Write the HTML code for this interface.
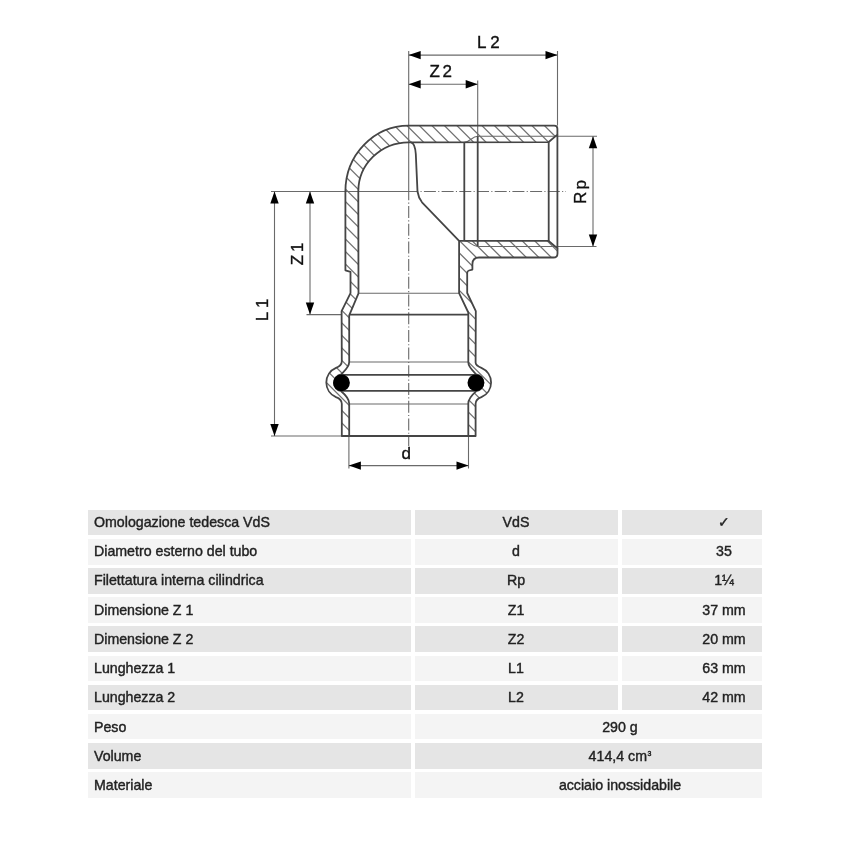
<!DOCTYPE html>
<html><head><meta charset="utf-8"><style>
svg,.t{will-change:transform}
html,body{margin:0;padding:0;background:#fff;width:850px;height:850px;overflow:hidden;position:relative}
.c{position:absolute}
.t{position:absolute;font-family:"Liberation Sans",sans-serif;font-size:14.2px;line-height:16px;color:#222;white-space:nowrap;-webkit-text-stroke:0.4px #222}
.ctr{text-align:center}
</style></head><body>
<svg width="850" height="500" viewBox="0 0 850 500" style="position:absolute;left:0;top:0">
<defs>
<clipPath id="cl"><path d="M 554.2 125.6 L 408.7 125.6 A 63.3 65.9 0 0 0 345.4 191.5 L 345.4 270.3 L 350.5 271.8 L 350.5 293.1 L 341.6 311.1 L 341.8 361.2 C 341.8 364.5 338.8 366.75 336 367.8 A 16 16 0 0 0 336 397.2 C 338.8 398.25 341.8 400.5 341.8 403.8 L 341.8 436 L 349.2 436 L 349.2 403.5 C 349.2 398 344.5 394 341.2 391.2 A 8.5 8.5 0 0 1 341.2 374.4 C 344.5 371 349.2 367 349.2 362 L 349.2 315.3 L 358.5 293.4 L 358.3 191.5 A 50.4 49.2 0 0 1 408.7 142.3 L 548.4 142.2 L 557.4 134.6 L 557.4 128.8 Q 557.4 125.6 554.2 125.6 Z"/><path d="M 459.1 240.8 L 548.4 240.8 L 557.5 248.4 L 557.5 253.4 Q 557.5 257.5 553.4 257.5 L 479 257.5 Q 472.4 257.5 472.4 264.2 L 472.4 269.6 L 469 270.5 Q 467.2 271 467.2 273 L 467.2 293 L 475.8 311.1 L 475.6 362.5 C 475.6 364.5 478.6 366.75 481.4 367.8 A 16 16 0 0 1 481.4 397.2 C 478.6 398.25 475.6 400.5 475.6 403.8 L 475.6 436 L 468.3 436 L 468.3 403.5 C 468.3 398 473 394 476.2 391.2 A 8.5 8.5 0 0 0 476.2 374.4 C 473 371 468.3 367 468.3 362.3 L 468.3 312.5 L 459.1 293.1 Z"/></clipPath>
</defs>
<g clip-path="url(#cl)" stroke="#707070" stroke-width="1.25" fill="none">
<line x1="18.80" y1="100" x2="378.80" y2="460"/>
<line x1="31.30" y1="100" x2="391.30" y2="460"/>
<line x1="43.80" y1="100" x2="403.80" y2="460"/>
<line x1="56.30" y1="100" x2="416.30" y2="460"/>
<line x1="68.80" y1="100" x2="428.80" y2="460"/>
<line x1="81.30" y1="100" x2="441.30" y2="460"/>
<line x1="93.80" y1="100" x2="453.80" y2="460"/>
<line x1="106.30" y1="100" x2="466.30" y2="460"/>
<line x1="118.80" y1="100" x2="478.80" y2="460"/>
<line x1="131.30" y1="100" x2="491.30" y2="460"/>
<line x1="143.80" y1="100" x2="503.80" y2="460"/>
<line x1="156.30" y1="100" x2="516.30" y2="460"/>
<line x1="168.80" y1="100" x2="528.80" y2="460"/>
<line x1="181.30" y1="100" x2="541.30" y2="460"/>
<line x1="193.80" y1="100" x2="553.80" y2="460"/>
<line x1="206.30" y1="100" x2="566.30" y2="460"/>
<line x1="218.80" y1="100" x2="578.80" y2="460"/>
<line x1="231.30" y1="100" x2="591.30" y2="460"/>
<line x1="243.80" y1="100" x2="603.80" y2="460"/>
<line x1="256.30" y1="100" x2="616.30" y2="460"/>
<line x1="268.80" y1="100" x2="628.80" y2="460"/>
<line x1="281.30" y1="100" x2="641.30" y2="460"/>
<line x1="293.80" y1="100" x2="653.80" y2="460"/>
<line x1="306.30" y1="100" x2="666.30" y2="460"/>
<line x1="318.80" y1="100" x2="678.80" y2="460"/>
<line x1="331.30" y1="100" x2="691.30" y2="460"/>
<line x1="343.80" y1="100" x2="703.80" y2="460"/>
<line x1="356.30" y1="100" x2="716.30" y2="460"/>
<line x1="368.80" y1="100" x2="728.80" y2="460"/>
<line x1="381.30" y1="100" x2="741.30" y2="460"/>
<line x1="393.80" y1="100" x2="753.80" y2="460"/>
<line x1="406.30" y1="100" x2="766.30" y2="460"/>
<line x1="418.80" y1="100" x2="778.80" y2="460"/>
<line x1="431.30" y1="100" x2="791.30" y2="460"/>
<line x1="443.80" y1="100" x2="803.80" y2="460"/>
<line x1="456.30" y1="100" x2="816.30" y2="460"/>
<line x1="468.80" y1="100" x2="828.80" y2="460"/>
<line x1="481.30" y1="100" x2="841.30" y2="460"/>
<line x1="493.80" y1="100" x2="853.80" y2="460"/>
<line x1="506.30" y1="100" x2="866.30" y2="460"/>
<line x1="518.80" y1="100" x2="878.80" y2="460"/>
<line x1="531.30" y1="100" x2="891.30" y2="460"/>
<line x1="543.80" y1="100" x2="903.80" y2="460"/>
<line x1="556.30" y1="100" x2="916.30" y2="460"/>
<line x1="568.80" y1="100" x2="928.80" y2="460"/>
<line x1="581.30" y1="100" x2="941.30" y2="460"/>
<line x1="593.80" y1="100" x2="953.80" y2="460"/>
<line x1="606.30" y1="100" x2="966.30" y2="460"/>
<line x1="618.80" y1="100" x2="978.80" y2="460"/>
<line x1="631.30" y1="100" x2="991.30" y2="460"/>
<line x1="643.80" y1="100" x2="1003.80" y2="460"/>
<line x1="656.30" y1="100" x2="1016.30" y2="460"/>
<line x1="668.80" y1="100" x2="1028.80" y2="460"/>
<line x1="681.30" y1="100" x2="1041.30" y2="460"/>
<line x1="693.80" y1="100" x2="1053.80" y2="460"/>
<line x1="706.30" y1="100" x2="1066.30" y2="460"/>
<line x1="718.80" y1="100" x2="1078.80" y2="460"/>
<line x1="731.30" y1="100" x2="1091.30" y2="460"/>
<line x1="743.80" y1="100" x2="1103.80" y2="460"/>
<line x1="756.30" y1="100" x2="1116.30" y2="460"/>
</g>
<!-- thin lines: dimension / extension -->
<g stroke="#6a6a6a" stroke-width="1.1" fill="none">
<line x1="408.7" y1="51" x2="408.7" y2="191.5"/>
<line x1="557.5" y1="51" x2="557.5" y2="125.6"/>
<line x1="477.7" y1="80.5" x2="477.7" y2="136.2"/>
<line x1="408.7" y1="55.1" x2="557.5" y2="55.1"/>
<line x1="408.7" y1="84.2" x2="477.7" y2="84.2"/>
<path d="M 464.3 142.3 C 470 142.3 472 136.2 477.7 136.2 L 597 136.2"/>
<path d="M 464.3 240.8 C 470 240.8 472 246.5 477.7 246.5 L 596.5 246.5"/>
<line x1="593" y1="136.2" x2="593" y2="246.5"/>
<line x1="271" y1="191.5" x2="417.5" y2="191.5"/>
<line x1="274.5" y1="191.5" x2="274.5" y2="436"/>
<line x1="310" y1="191.5" x2="310" y2="314.6"/>
<line x1="271" y1="436" x2="341.8" y2="436"/>
<line x1="306.5" y1="314.6" x2="341.6" y2="314.6"/>
<line x1="348.9" y1="436" x2="348.9" y2="468.5"/>
<line x1="468.5" y1="436" x2="468.5" y2="468.5"/>
<line x1="348.9" y1="465.6" x2="468.5" y2="465.6"/>
<line x1="358.5" y1="293.2" x2="459.1" y2="293.2"/>
<line x1="349.2" y1="362" x2="468.3" y2="362"/>
<line x1="349.2" y1="404" x2="468.3" y2="404"/>
</g>
<g stroke="#6a6a6a" stroke-width="1.1" fill="none" stroke-dasharray="12 2.3 1.1 2.3">
<line x1="408.7" y1="191.5" x2="408.7" y2="446" stroke-dashoffset="3.2"/>
<line x1="417.5" y1="191.5" x2="566" y2="191.5" stroke-dashoffset="11.3"/>
</g>
<!-- thick outlines -->
<g stroke="#454545" stroke-width="1.8" fill="none" stroke-linejoin="round">
<path d="M 554.2 125.6 L 408.7 125.6 A 63.3 65.9 0 0 0 345.4 191.5 L 345.4 270.3 L 350.5 271.8 L 350.5 293.1 L 341.6 311.1 L 341.8 361.2 C 341.8 364.5 338.8 366.75 336 367.8 A 16 16 0 0 0 336 397.2 C 338.8 398.25 341.8 400.5 341.8 403.8 L 341.8 436 L 349.2 436 L 349.2 403.5 C 349.2 398 344.5 394 341.2 391.2 A 8.5 8.5 0 0 1 341.2 374.4 C 344.5 371 349.2 367 349.2 362 L 349.2 315.3 L 358.5 293.4 L 358.3 191.5 A 50.4 49.2 0 0 1 408.7 142.3 L 548.4 142.2 L 557.4 134.6 L 557.4 128.8 Q 557.4 125.6 554.2 125.6 Z"/>
<path d="M 459.1 240.8 L 548.4 240.8 L 557.5 248.4 L 557.5 253.4 Q 557.5 257.5 553.4 257.5 L 479 257.5 Q 472.4 257.5 472.4 264.2 L 472.4 269.6 L 469 270.5 Q 467.2 271 467.2 273 L 467.2 293 L 475.8 311.1 L 475.6 362.5 C 475.6 364.5 478.6 366.75 481.4 367.8 A 16 16 0 0 1 481.4 397.2 C 478.6 398.25 475.6 400.5 475.6 403.8 L 475.6 436 L 468.3 436 L 468.3 403.5 C 468.3 398 473 394 476.2 391.2 A 8.5 8.5 0 0 0 476.2 374.4 C 473 371 468.3 367 468.3 362.3 L 468.3 312.5 L 459.1 293.1 Z"/>
<path d="M 411 142.3 Q 415 143 415.8 154 L 417.5 191.5 Q 418.5 198 422 202.3 L 459.1 240.9"/>
<line x1="464.3" y1="142.3" x2="464.3" y2="240.9"/>
<line x1="477.7" y1="136.2" x2="477.7" y2="246.2"/>
<line x1="548.7" y1="142.2" x2="548.7" y2="240.9"/>
<line x1="557.4" y1="134.6" x2="557.4" y2="248.4"/>
<line x1="349.2" y1="436" x2="468.3" y2="436"/>
<line x1="349.2" y1="314.6" x2="468.3" y2="314.6"/>
<line x1="341.5" y1="374.8" x2="475.6" y2="374.8"/>
<line x1="341.5" y1="390.9" x2="475.6" y2="390.9"/>
</g>
<g fill="#000">
<circle cx="341.5" cy="382.8" r="8.4"/>
<circle cx="475.9" cy="382.8" r="8.4"/>
<polygon points="408.70,55.10 420.70,50.90 420.70,59.30"/>
<polygon points="557.50,55.10 545.50,50.90 545.50,59.30"/>
<polygon points="408.70,84.20 420.70,80.00 420.70,88.40"/>
<polygon points="477.70,84.20 465.70,80.00 465.70,88.40"/>
<polygon points="593.00,136.20 588.80,148.20 597.20,148.20"/>
<polygon points="593.00,246.50 588.80,234.50 597.20,234.50"/>
<polygon points="274.50,191.50 270.30,203.50 278.70,203.50"/>
<polygon points="274.50,436.00 270.30,424.00 278.70,424.00"/>
<polygon points="310.00,191.50 305.80,203.50 314.20,203.50"/>
<polygon points="310.00,314.60 305.80,302.60 314.20,302.60"/>
<polygon points="348.90,465.60 360.90,461.40 360.90,469.80"/>
<polygon points="468.50,465.60 456.50,461.40 456.50,469.80"/>
</g>
<g font-family="&quot;Liberation Sans&quot;, sans-serif" font-size="17" fill="#111" stroke="#111" stroke-width="0.35">
<text x="477" y="48.1">L</text><text x="490.2" y="48.1">2</text>
<text x="429.5" y="76.9">Z</text><text x="442.5" y="76.9">2</text>
<text x="401.5" y="458.5">d</text>
<text transform="translate(303.1 265.3) rotate(-90)">Z</text>
<text transform="translate(303.1 252) rotate(-90)">1</text>
<text transform="translate(267.6 321.3) rotate(-90)">L</text>
<text transform="translate(267.6 308) rotate(-90)">1</text>
<text transform="translate(585.9 204) rotate(-90)">R</text>
<text transform="translate(585.9 189.5) rotate(-90)">p</text>
</g>
</svg>
<div class="c" style="left:88px;top:509.93px;width:323.10px;height:25.5px;background:#e5e5e5"></div><div class="t" style="left:93.5px;top:513.82px">Omologazione tedesca VdS</div><div class="c" style="left:414.6px;top:509.93px;width:203.30px;height:25.5px;background:#e5e5e5"></div><div class="c" style="left:621.6px;top:509.93px;width:140.60px;height:25.5px;background:#e5e5e5"></div><div class="t ctr" style="left:416px;width:200px;top:513.82px">VdS</div><div class="t ctr" style="left:624.3px;width:200px;top:513.82px">✓</div><div class="c" style="left:88px;top:539.07px;width:323.10px;height:25.5px;background:#f4f4f4"></div><div class="t" style="left:93.5px;top:543.08px">Diametro esterno del tubo</div><div class="c" style="left:414.6px;top:539.07px;width:203.30px;height:25.5px;background:#f4f4f4"></div><div class="c" style="left:621.6px;top:539.07px;width:140.60px;height:25.5px;background:#f4f4f4"></div><div class="t ctr" style="left:416px;width:200px;top:543.08px">d</div><div class="t ctr" style="left:624.3px;width:200px;top:543.08px">35</div><div class="c" style="left:88px;top:568.21px;width:323.10px;height:25.5px;background:#e5e5e5"></div><div class="t" style="left:93.5px;top:572.34px">Filettatura interna cilindrica</div><div class="c" style="left:414.6px;top:568.21px;width:203.30px;height:25.5px;background:#e5e5e5"></div><div class="c" style="left:621.6px;top:568.21px;width:140.60px;height:25.5px;background:#e5e5e5"></div><div class="t ctr" style="left:416px;width:200px;top:572.34px">Rp</div><div class="t ctr" style="left:624.3px;width:200px;top:572.34px">1¼</div><div class="c" style="left:88px;top:597.35px;width:323.10px;height:25.5px;background:#f4f4f4"></div><div class="t" style="left:93.5px;top:601.60px">Dimensione Z 1</div><div class="c" style="left:414.6px;top:597.35px;width:203.30px;height:25.5px;background:#f4f4f4"></div><div class="c" style="left:621.6px;top:597.35px;width:140.60px;height:25.5px;background:#f4f4f4"></div><div class="t ctr" style="left:416px;width:200px;top:601.60px">Z1</div><div class="t ctr" style="left:624.3px;width:200px;top:601.60px">37 mm</div><div class="c" style="left:88px;top:626.49px;width:323.10px;height:25.5px;background:#e5e5e5"></div><div class="t" style="left:93.5px;top:630.86px">Dimensione Z 2</div><div class="c" style="left:414.6px;top:626.49px;width:203.30px;height:25.5px;background:#e5e5e5"></div><div class="c" style="left:621.6px;top:626.49px;width:140.60px;height:25.5px;background:#e5e5e5"></div><div class="t ctr" style="left:416px;width:200px;top:630.86px">Z2</div><div class="t ctr" style="left:624.3px;width:200px;top:630.86px">20 mm</div><div class="c" style="left:88px;top:655.63px;width:323.10px;height:25.5px;background:#f4f4f4"></div><div class="t" style="left:93.5px;top:660.12px">Lunghezza 1</div><div class="c" style="left:414.6px;top:655.63px;width:203.30px;height:25.5px;background:#f4f4f4"></div><div class="c" style="left:621.6px;top:655.63px;width:140.60px;height:25.5px;background:#f4f4f4"></div><div class="t ctr" style="left:416px;width:200px;top:660.12px">L1</div><div class="t ctr" style="left:624.3px;width:200px;top:660.12px">63 mm</div><div class="c" style="left:88px;top:684.77px;width:323.10px;height:25.5px;background:#e5e5e5"></div><div class="t" style="left:93.5px;top:689.38px">Lunghezza 2</div><div class="c" style="left:414.6px;top:684.77px;width:203.30px;height:25.5px;background:#e5e5e5"></div><div class="c" style="left:621.6px;top:684.77px;width:140.60px;height:25.5px;background:#e5e5e5"></div><div class="t ctr" style="left:416px;width:200px;top:689.38px">L2</div><div class="t ctr" style="left:624.3px;width:200px;top:689.38px">42 mm</div><div class="c" style="left:88px;top:713.91px;width:323.10px;height:25.5px;background:#f4f4f4"></div><div class="t" style="left:93.5px;top:718.64px">Peso</div><div class="c" style="left:414.6px;top:713.91px;width:347.60px;height:25.5px;background:#f4f4f4"></div><div class="t ctr" style="left:470px;width:300px;top:718.64px">290 g</div><div class="c" style="left:88px;top:743.05px;width:323.10px;height:25.5px;background:#e5e5e5"></div><div class="t" style="left:93.5px;top:747.90px">Volume</div><div class="c" style="left:414.6px;top:743.05px;width:347.60px;height:25.5px;background:#e5e5e5"></div><div class="t ctr" style="left:470px;width:300px;top:747.90px">414,4 cm<span style="font-size:7px;position:relative;top:-5px;margin-left:0.5px">3</span></div><div class="c" style="left:88px;top:772.19px;width:323.10px;height:25.5px;background:#f4f4f4"></div><div class="t" style="left:93.5px;top:777.16px">Materiale</div><div class="c" style="left:414.6px;top:772.19px;width:347.60px;height:25.5px;background:#f4f4f4"></div><div class="t ctr" style="left:470px;width:300px;top:777.16px">acciaio inossidabile</div>
</body></html>
